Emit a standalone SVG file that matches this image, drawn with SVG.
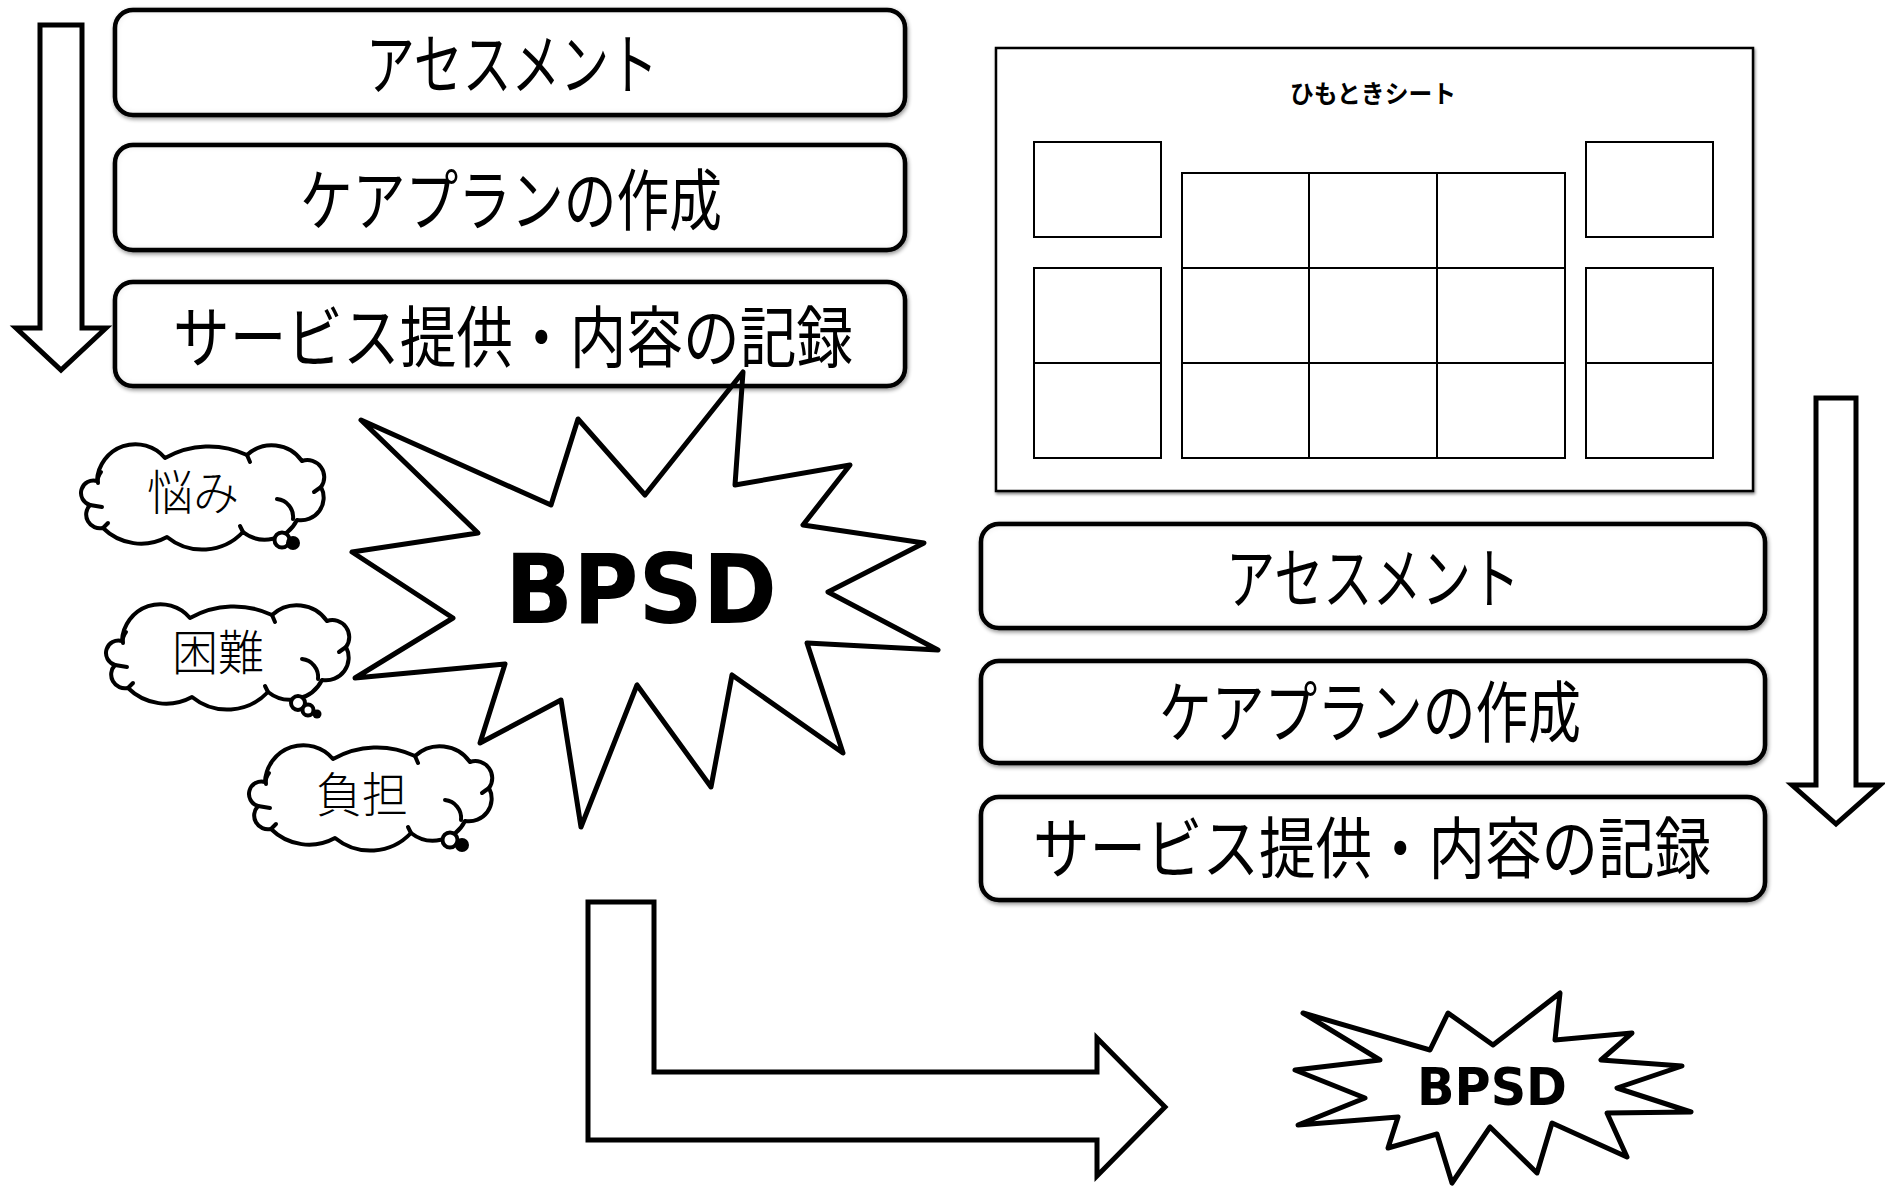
<svg xmlns="http://www.w3.org/2000/svg" xmlns:xlink="http://www.w3.org/1999/xlink" width="1885" height="1188" viewBox="0 0 1885 1188">
<style>
.bx{fill:#fff;stroke:#000;stroke-width:4.5}
.lbl{font-family:"Noto Sans CJK JP","Noto Sans CJK SC",sans-serif;font-size:67px;text-anchor:middle;fill:#000}
.ct{font-family:"Noto Sans CJK JP","Noto Sans CJK SC",sans-serif;font-size:48px;font-weight:300;text-anchor:middle;fill:#000}
.arrow{fill:#fff;stroke:#000;stroke-width:5;stroke-linejoin:miter}
.star{fill:none;stroke:#000;stroke-width:5;stroke-linejoin:round}
.cloud{fill:#fff;stroke:#000;stroke-width:4;stroke-linejoin:round}
.tick{fill:none;stroke:#000;stroke-width:4;stroke-linecap:round}
.cell{fill:#fff;stroke:#000;stroke-width:2}
.bp{font-family:"DejaVu Sans",Verdana,sans-serif;font-weight:bold;text-anchor:middle;fill:#000}
</style>
<defs>
<filter id="boxfx" x="-5%" y="-20%" width="110%" height="150%">
<feGaussianBlur in="SourceAlpha" stdDeviation="2" result="b"/>
<feOffset in="b" dx="1" dy="2" result="ob"/>
<feComponentTransfer in="ob" result="drop"><feFuncA type="linear" slope="0.45"/></feComponentTransfer>
<feFlood flood-color="#000" flood-opacity="0.65" result="fl"/>
<feComposite in="fl" in2="SourceAlpha" operator="out" result="outside"/>
<feGaussianBlur in="outside" stdDeviation="4.5" result="ib"/>
<feComposite in="ib" in2="SourceAlpha" operator="in" result="inner"/>
<feMerge><feMergeNode in="drop"/><feMergeNode in="SourceGraphic"/><feMergeNode in="inner"/></feMerge>
</filter>
<filter id="sheetfx" x="-5%" y="-5%" width="110%" height="110%">
<feGaussianBlur in="SourceAlpha" stdDeviation="1.5" result="b"/>
<feOffset in="b" dx="1" dy="2" result="ob"/>
<feComponentTransfer in="ob" result="drop"><feFuncA type="linear" slope="0.5"/></feComponentTransfer>
<feMerge><feMergeNode in="drop"/><feMergeNode in="SourceGraphic"/></feMerge>
</filter>
<g id="cloudshape">
<path class="cloud" d="M22,34 A38.5,38.5 0 0 1 90,11 A89,89 0 0 1 172,8 A36.7,36.7 0 0 1 227,14 A16.9,16.9 0 0 1 246,40 A22.7,22.7 0 0 1 222,73 A35.7,35.7 0 0 1 168,85 A55.9,55.9 0 0 1 92,90 A54,54 0 0 1 28,81 A13.8,13.8 0 0 1 15,58 A12.4,12.4 0 0 1 22,34 Z"/>
<path class="tick" d="M202,52 A18,18 0 0 1 218,72"/>
<path class="tick" d="M26,25 Q22,30 23,36"/>
<path class="tick" d="M15,58 L27,60"/>
<path class="tick" d="M172,8 L175,15"/>
<path class="tick" d="M246,40 L239,45"/>
<path class="tick" d="M168,85 L165,79"/>
<path class="tick" d="M28,81 L33,76"/>
</g>
</defs>
<rect width="1885" height="1188" fill="#fff"/>

<g id="connectors">
<polygon id="arrow-left" class="arrow" points="40,25 82,25 82,328 106,328 61,370 16,328 40,328"/>
<polygon id="arrow-right" class="arrow" points="1816,398 1856,398 1856,785 1880,785 1836,824 1792,785 1816,785"/>
<polygon id="arrow-bent" class="arrow" points="588,902 654,902 654,1072 1097,1072 1097,1038 1165,1107 1097,1176 1097,1140 588,1140"/>
</g>

<g id="box-l1"><rect class="bx" filter="url(#boxfx)" x="115" y="10" width="790" height="105" rx="18"/><text class="lbl" x="512" y="89" textLength="292" lengthAdjust="spacingAndGlyphs">アセスメント</text></g>
<g id="box-l2"><rect class="bx" filter="url(#boxfx)" x="115" y="145" width="790" height="105" rx="18"/><text class="lbl" x="511" y="225" textLength="422" lengthAdjust="spacingAndGlyphs">ケアプランの作成</text></g>
<g id="box-l3"><rect class="bx" filter="url(#boxfx)" x="115" y="282" width="790" height="104" rx="18"/><text class="lbl" x="513" y="362" textLength="680" lengthAdjust="spacingAndGlyphs">サービス提供・内容の記録</text></g>

<g id="box-r1"><rect class="bx" filter="url(#boxfx)" x="981" y="524" width="784" height="104" rx="18"/><text class="lbl" x="1373" y="603" textLength="294" lengthAdjust="spacingAndGlyphs">アセスメント</text></g>
<g id="box-r2"><rect class="bx" filter="url(#boxfx)" x="981" y="661" width="784" height="102" rx="18"/><text class="lbl" x="1370" y="737" textLength="422" lengthAdjust="spacingAndGlyphs">ケアプランの作成</text></g>
<g id="box-r3"><rect class="bx" filter="url(#boxfx)" x="981" y="797" width="784" height="103" rx="18"/><text class="lbl" x="1372" y="873" textLength="678" lengthAdjust="spacingAndGlyphs">サービス提供・内容の記録</text></g>

<g id="sheet">
<rect x="996" y="48" width="757" height="443" fill="#fff" stroke="#000" stroke-width="2.5" filter="url(#sheetfx)"/>
<text x="1373" y="103" font-family="'Noto Sans CJK JP','Noto Sans CJK SC',sans-serif" font-size="25" font-weight="bold" text-anchor="middle" textLength="166" lengthAdjust="spacingAndGlyphs">ひもときシート</text>
<rect class="cell" x="1034" y="142" width="127" height="95"/>
<rect class="cell" x="1034" y="268" width="127" height="95"/>
<rect class="cell" x="1034" y="363" width="127" height="95"/>
<rect class="cell" x="1586" y="142" width="127" height="95"/>
<rect class="cell" x="1586" y="268" width="127" height="95"/>
<rect class="cell" x="1586" y="363" width="127" height="95"/>
<rect class="cell" x="1182" y="173" width="383" height="285"/>
<path fill="none" stroke="#000" stroke-width="2" d="M1309,173 V458 M1437,173 V458 M1182,268 H1565 M1182,363 H1565"/>
</g>

<g id="cloud-1">
<use xlink:href="#cloudshape" href="#cloudshape" transform="translate(75,447)"/>
<circle cx="282" cy="540" r="7.5" fill="#fff" stroke="#000" stroke-width="4"/>
<circle cx="293" cy="543" r="7" fill="#000"/>
<text class="ct" x="193" y="510" textLength="92" lengthAdjust="spacingAndGlyphs">悩み</text>
</g>
<g id="cloud-2">
<use xlink:href="#cloudshape" href="#cloudshape" transform="translate(100,607)"/>
<circle cx="298" cy="703" r="7" fill="#fff" stroke="#000" stroke-width="4"/>
<circle cx="308" cy="710" r="5.5" fill="#fff" stroke="#000" stroke-width="4"/>
<circle cx="317" cy="714" r="4.5" fill="#000"/>
<text class="ct" x="218" y="670" textLength="92" lengthAdjust="spacingAndGlyphs">困難</text>
</g>
<g id="cloud-3">
<use xlink:href="#cloudshape" href="#cloudshape" transform="translate(243,748)"/>
<circle cx="450" cy="840" r="7.5" fill="#fff" stroke="#000" stroke-width="4"/>
<circle cx="462" cy="845" r="7" fill="#000"/>
<text class="ct" x="362" y="812" textLength="92" lengthAdjust="spacingAndGlyphs">負担</text>
</g>

<g id="bpsd-big">
<polygon class="star" points="361,420 551,505 578,419 645,495 743,372 735,485 850,465 803,525 924,543 828,592 938,650 807,643 843,753 732,675 711,787 637,685 581,827 561,700 480,743 505,664 355,678 453,618 352,552 478,533"/>
<text class="bp" x="641" y="623" font-size="96" textLength="272" lengthAdjust="spacingAndGlyphs">BPSD</text>
</g>

<g id="bpsd-small">
<polygon class="star" points="1303,1013 1430,1050 1448,1013 1493,1045 1560,993 1555,1040 1632,1033 1601,1060 1682,1066 1617,1088 1691,1112 1607,1113 1627,1157 1552,1123 1537,1173 1490,1127 1452,1183 1437,1134 1388,1148 1398,1117 1298,1125 1365,1098 1295,1070 1380,1060"/>
<text class="bp" x="1492" y="1105" font-size="52" textLength="150" lengthAdjust="spacingAndGlyphs">BPSD</text>
</g>
</svg>
